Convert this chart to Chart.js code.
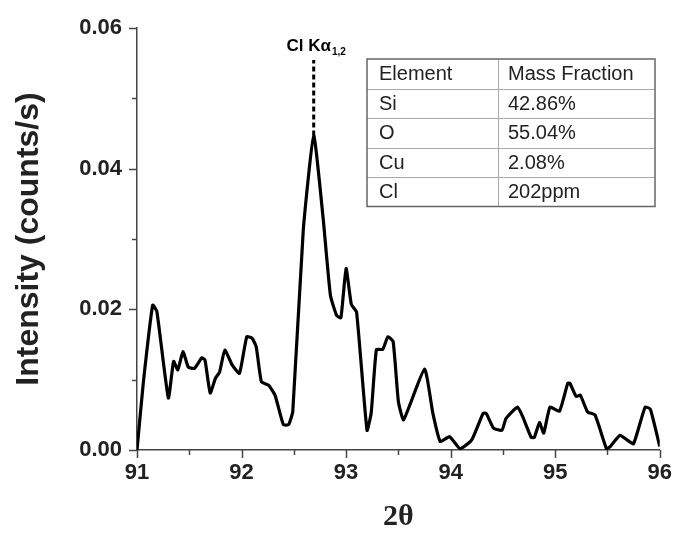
<!DOCTYPE html>
<html>
<head>
<meta charset="utf-8">
<script src="https://cdn.jsdelivr.net/npm/chart.js@4"></script>
<style>
    html, body { margin: 0; padding: 0; background: #fff; }
    #wrap { width: 674px; height: 535px; position: relative; }
</style>
</head>
<body>
<div id="wrap"><canvas id="xrfChart"></canvas></div>
<script>
const twoTheta = [91.00, 91.06, 91.15, 91.19, 91.30, 91.35, 91.39, 91.44, 91.49, 91.55,
    91.62, 91.65, 91.70, 91.75, 91.79, 91.84, 91.91, 91.98, 92.05, 92.10,
    92.14, 92.19, 92.26, 92.32, 92.40, 92.45, 92.49, 92.59, 92.69, 92.78,
    92.85, 92.91, 92.95, 93.00, 93.05, 93.10, 93.20, 93.24, 93.29, 93.35,
    93.40, 93.45, 93.50, 93.55, 93.75, 93.83, 93.90, 93.99, 94.09, 94.20,
    94.31, 94.34, 94.41, 94.49, 94.53, 94.64, 94.69, 94.77, 94.80, 94.85,
    94.89, 94.95, 95.04, 95.12, 95.14, 95.20, 95.24, 95.31, 95.38, 95.49,
    95.52, 95.62, 95.69, 95.75, 95.86, 95.91, 96.00];

const intensity = [0.0000, 0.0095, 0.0206, 0.0197, 0.0074, 0.0126, 0.0114, 0.0140, 0.0118, 0.0116,
    0.0131, 0.0128, 0.0081, 0.0102, 0.0111, 0.0142, 0.0121, 0.0109, 0.0161, 0.0159,
    0.0147, 0.0097, 0.0092, 0.0078, 0.0036, 0.0036, 0.0055, 0.0312, 0.0447, 0.0330,
    0.0220, 0.0191, 0.0188, 0.0258, 0.0207, 0.0196, 0.0028, 0.0053, 0.0143, 0.0143,
    0.0161, 0.0154, 0.0069, 0.0043, 0.0115, 0.0052, 0.0012, 0.0019, 0.0002, 0.0014,
    0.0052, 0.0052, 0.0031, 0.0028, 0.0045, 0.0061, 0.0047, 0.0018, 0.0018, 0.0039,
    0.0024, 0.0061, 0.0055, 0.0095, 0.0095, 0.0076, 0.0078, 0.0054, 0.0050, 0.0002,
    0.0004, 0.0021, 0.0014, 0.0009, 0.0061, 0.0058, 0.0005];

const xMajorTicks = [91, 92, 93, 94, 95, 96];
const yMajorTicks = [0.00, 0.02, 0.04, 0.06];

const peakPosition = 92.69;
const peakIntensity = 0.0447;
const peakLabel = 'Cl Kα';
const peakSubscript = '1,2';

const tableHeader = ['Element', 'Mass Fraction'];
const elements = ['Si', 'O', 'Cu', 'Cl'];
const massFractions = ['42.86%', '55.04%', '2.08%', '202ppm'];

const points = twoTheta.map((t, i) => ({ x: t, y: intensity[i] }));

function isMajor(list, v) {
    return list.some(m => Math.abs(m - v) < 1e-6);
}

// tick marks drawn by hand: major and minor need different lengths
const tickMarks = {
    id: 'tickMarks',
    afterDraw(chart) {
        const ctx = chart.ctx;
        const xs = chart.scales.x;
        const ys = chart.scales.y;
        const area = chart.chartArea;
        ctx.save();
        ctx.strokeStyle = '#444';
        ctx.lineWidth = 1.5;
        for (let v = 91; v <= 96.001; v += 0.5) {
            const px = Math.round(xs.getPixelForValue(v)) + 0.5;
            const len = isMajor(xMajorTicks, v) ? 8 : 5;
            ctx.beginPath();
            ctx.moveTo(px, area.bottom);
            ctx.lineTo(px, area.bottom + len);
            ctx.stroke();
        }
        for (let v = 0; v <= 0.0601; v += 0.01) {
            const py = Math.round(ys.getPixelForValue(v)) + 0.5;
            const len = isMajor(yMajorTicks, v) ? 8 : 5;
            ctx.beginPath();
            ctx.moveTo(area.left, py);
            ctx.lineTo(area.left - len, py);
            ctx.stroke();
        }
        ctx.restore();
    }
};

const peakMarker = {
    id: 'peakMarker',
    afterDatasetsDraw(chart) {
        const ctx = chart.ctx;
        const px = chart.scales.x.getPixelForValue(peakPosition);
        const py = chart.scales.y.getPixelForValue(peakIntensity);
        ctx.save();
        ctx.strokeStyle = '#000';
        ctx.lineWidth = 3;
        ctx.setLineDash([5, 3]);
        ctx.beginPath();
        ctx.moveTo(px, py);
        ctx.lineTo(px, 60);
        ctx.stroke();
        ctx.setLineDash([]);

        ctx.fillStyle = '#000';
        ctx.font = 'bold 17px "Liberation Sans", Arial, sans-serif';
        ctx.textBaseline = 'alphabetic';
        const mainW = ctx.measureText(peakLabel).width;
        ctx.font = 'bold 10px "Liberation Sans", Arial, sans-serif';
        const subW = ctx.measureText(peakSubscript).width;
        const startX = px - (mainW + subW) / 2 + 2;
        ctx.font = 'bold 17px "Liberation Sans", Arial, sans-serif';
        ctx.textAlign = 'left';
        ctx.fillText(peakLabel, startX, 51);
        ctx.font = 'bold 10px "Liberation Sans", Arial, sans-serif';
        ctx.fillText(peakSubscript, startX + mainW + 1, 55);
        ctx.restore();
    }
};

const massTable = {
    id: 'massTable',
    afterDraw(chart) {
        const ctx = chart.ctx;
        const left = 367, right = 655, top = 59, rowH = 29.5, colX = 498;
        const rows = [tableHeader].concat(elements.map((e, i) => [e, massFractions[i]]));
        const bottom = top + rowH * rows.length;
        ctx.save();
        ctx.fillStyle = '#fff';
        ctx.fillRect(left, top, right - left, bottom - top);
        ctx.strokeStyle = '#aaa';
        ctx.lineWidth = 1;
        for (let i = 1; i < rows.length; i++) {
            const y = Math.round(top + rowH * i) + 0.5;
            ctx.beginPath();
            ctx.moveTo(left, y);
            ctx.lineTo(right, y);
            ctx.stroke();
        }
        ctx.beginPath();
        ctx.moveTo(colX + 0.5, top);
        ctx.lineTo(colX + 0.5, bottom);
        ctx.stroke();
        ctx.strokeStyle = '#666';
        ctx.lineWidth = 1.5;
        ctx.strokeRect(left, top, right - left, bottom - top);

        ctx.fillStyle = '#222';
        ctx.font = '20px "Liberation Sans", Arial, sans-serif';
        ctx.textBaseline = 'middle';
        ctx.textAlign = 'left';
        rows.forEach((r, i) => {
            const cy = top + rowH * i + rowH / 2 + 1;
            ctx.fillText(r[0], left + 12, cy);
            ctx.fillText(r[1], colX + 10, cy);
        });
        ctx.restore();
    }
};

function initializeChart() {
    new Chart(document.getElementById('xrfChart'), {
        type: 'line',
        data: {
            datasets: [{
                data: points,
                borderColor: '#000',
                borderWidth: 3.2,
                pointRadius: 0,
                tension: 0.15,
                borderJoinStyle: 'round',
                fill: false
            }]
        },
        options: {
            responsive: true,
            maintainAspectRatio: false,
            animation: false,
            layout: { padding: { top: 28, right: 14, left: 0, bottom: 0 } },
            plugins: {
                legend: { display: false },
                tooltip: { enabled: false }
            },
            scales: {
                x: {
                    type: 'linear',
                    min: 91,
                    max: 96,
                    grid: { display: false, drawTicks: true, tickLength: 8 },
                    border: { display: true, color: '#444', width: 1.5 },
                    ticks: {
                        stepSize: 0.5,
                        padding: 2,
                        color: '#222',
                        font: { family: '"Liberation Sans", Arial, sans-serif', size: 22, weight: 'bold' },
                        callback: v => isMajor(xMajorTicks, v) ? String(v) : ''
                    },
                    title: {
                        display: true,
                        text: '2θ',
                        color: '#222',
                        font: { family: '"Liberation Serif", "Times New Roman", serif', size: 30, weight: 'bold' },
                        padding: { top: 0, bottom: 0 }
                    },
                    afterFit: s => { s.height = 85; }
                },
                y: {
                    min: 0,
                    max: 0.06,
                    grid: { display: false, drawTicks: true, tickLength: 8 },
                    border: { display: true, color: '#444', width: 1.5 },
                    ticks: {
                        stepSize: 0.01,
                        padding: 7,
                        color: '#222',
                        font: { family: '"Liberation Sans", Arial, sans-serif', size: 22, weight: 'bold' },
                        callback: v => isMajor(yMajorTicks, v) ? v.toFixed(2) : ''
                    },
                    title: {
                        display: true,
                        text: 'Intensity (counts/s)',
                        color: '#222',
                        font: { family: '"Liberation Sans", Arial, sans-serif', size: 32, weight: 'bold' },
                        padding: { top: 10, bottom: 0 }
                    },
                    afterFit: s => { s.width = 137; }
                }
            }
        },
        plugins: [tickMarks, peakMarker, massTable]
    });
}

document.addEventListener('DOMContentLoaded', initializeChart);
</script>
</body>
</html>
